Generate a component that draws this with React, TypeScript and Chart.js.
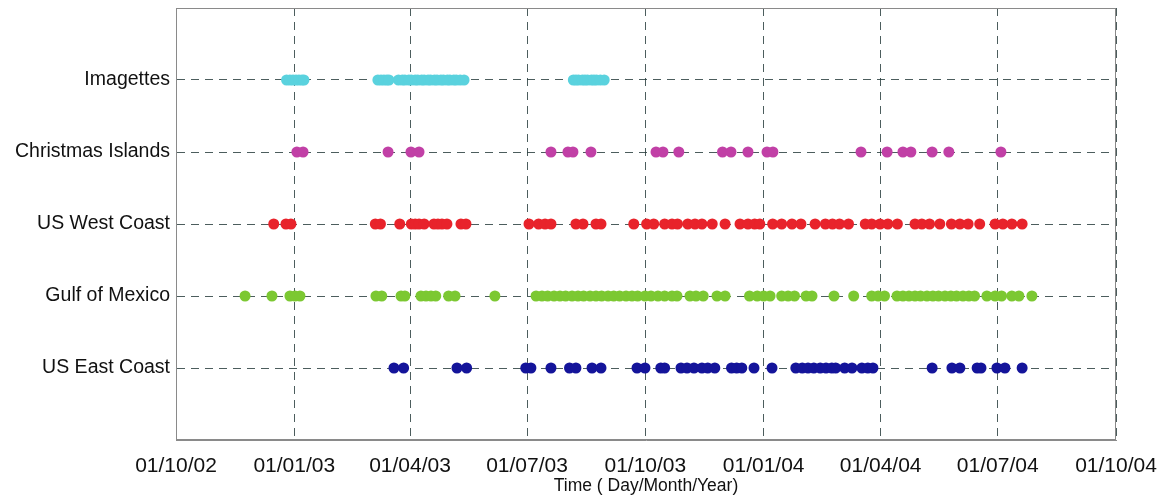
import React, { useEffect, useRef } from "react";
import { Chart, registerables } from "chart.js";

Chart.register(...registerables);

// Rows (bottom to top): y = 1..5
const rowLabels = ["US East Coast", "Gulf of Mexico", "US West Coast", "Christmas Islands", "Imagettes"];

// Ticks: days since 01/10/02
const tickDays = [0, 92, 182, 273, 365, 457, 548, 639, 731];
const tickLabels = ["01/10/02", "01/01/03", "01/04/03", "01/07/03", "01/10/03", "01/01/04", "01/04/04", "01/07/04", "01/10/04"];

// Acquisition dates, in days since 01/10/02
const imagettesDays = [86, 88.6, 91, 93.3, 95.6, 98, 99.5, 157, 159.4, 161.7, 164, 165.6, 173, 176, 178, 181, 183, 186, 188, 191, 193, 196, 198, 201, 203, 206, 208, 211, 213, 216, 218, 221, 224, 309, 311, 313, 316, 318, 320, 323, 325, 327, 330, 333];
const christmasDays = [94, 98.8, 164.9, 182.7, 189, 291.6, 304.8, 308.7, 322.7, 373.3, 378.7, 391, 425, 431.6, 444.8, 459.6, 464.2, 532.7, 553, 565.3, 571.5, 588, 601, 641.5];
const westCoastDays = [76, 85.5, 89.4, 155, 159, 174, 183, 186, 189, 193, 200.6, 203.7, 206.8, 210.7, 221.6, 225.5, 274.5, 282, 287, 291.6, 311, 316.5, 326.6, 330.5, 356, 366, 371.5, 380, 385.7, 390, 398, 403.6, 409, 417, 427, 438.6, 444.8, 450, 454, 464, 471, 479, 486, 497, 505, 510.5, 516, 523, 536, 541, 547.5, 553.6, 561, 574.7, 580, 586, 594, 603, 609.6, 616, 625, 637, 643, 650, 658];
const gulfDays = [53.7, 74.6, 88.6, 92.5, 96.4, 155.5, 160, 175, 178, 190.5, 194.4, 198.3, 202, 212, 217, 248, 280, 284.6, 289, 294, 298.6, 303, 308, 312.6, 317, 322, 326.6, 331, 336, 340.4, 345, 350, 354.6, 359, 364.7, 369.4, 374.8, 380, 385.7, 389.6, 399.7, 404.4, 410, 420.7, 427, 446, 452, 457, 462, 471, 476, 481, 490, 494.6, 511.7, 527, 541, 546, 551, 560.7, 565.3, 570, 574.7, 579, 584, 588.6, 593, 598, 602.6, 607, 612, 616.6, 621, 630.6, 637, 642, 650, 655.5, 665.6];
const eastCoastDays = [169.5, 177, 218.5, 226, 272, 276, 291.6, 306, 311, 323.5, 330.5, 358.5, 364.7, 377, 380, 392.7, 397.4, 402.8, 409, 413.5, 419, 432, 436, 440, 449.5, 463.5, 482, 487, 491.5, 496, 501, 505.5, 510, 513, 520, 525.7, 533.4, 538, 542, 588, 603.4, 609.6, 623, 626, 638.4, 644.6, 658];

const seriesDays = [eastCoastDays, gulfDays, westCoastDays, christmasDays, imagettesDays];
const seriesColors = ["#14149a", "#7cc832", "#e8232b", "#c140a6", "#5ad2de"];

const frame = {
  id: "frame",
  beforeDatasetsDraw(chart: any) {
    const { ctx, chartArea: a } = chart;
    ctx.save();
    ctx.strokeStyle = "#8a8a8a";
    ctx.lineWidth = 1;
    ctx.strokeRect(a.left + 0.5, a.top + 0.5, a.right - a.left - 1, a.bottom - a.top - 1);
    ctx.restore();
  },
};

export default function App() {
  const ref = useRef<HTMLCanvasElement>(null);
  useEffect(() => {
    const chart = new Chart(ref.current!, {
      type: "scatter",
      data: {
        datasets: seriesDays.map((days, i) => ({
          label: rowLabels[i],
          data: days.map((d) => ({ x: d, y: i + 1 })),
          backgroundColor: seriesColors[i],
          borderColor: seriesColors[i],
          borderWidth: 0,
          pointRadius: 5.5,
          pointHoverRadius: 5.5,
        })),
      },
      options: {
        animation: false,
        responsive: true,
        maintainAspectRatio: false,
        layout: { padding: { left: 0, right: 47, top: 8, bottom: 0 } },
        plugins: { legend: { display: false }, tooltip: { enabled: false } },
        scales: {
          x: {
            type: "linear",
            min: 0,
            max: 731,
            afterBuildTicks: (s: any) => {
              s.ticks = tickDays.map((v) => ({ value: v }));
            },
            afterFit: (s: any) => {
              s.height = 55;
              s.paddingLeft = 0;
              s.paddingRight = 0;
            },
            ticks: {
              autoSkip: false,
              maxRotation: 0,
              padding: 14,
              color: "#111",
              font: { family: "'Liberation Sans', Arial, sans-serif", size: 21 },
              callback: (v: any) => tickLabels[tickDays.indexOf(Number(v))] ?? "",
            },
            grid: { color: "rgba(45,65,65,0.85)", lineWidth: 1, drawTicks: false },
            border: { display: true, color: "#8a8a8a", dash: [8, 6] },
            title: {
              display: true,
              text: "Time ( Day/Month/Year)",
              color: "#111",
              font: { family: "'Liberation Sans', Arial, sans-serif", size: 17.5 },
              padding: { top: 0, bottom: -2 },
            },
          },
          y: {
            type: "linear",
            min: 0,
            max: 6,
            afterBuildTicks: (s: any) => {
              s.ticks = [1, 2, 3, 4, 5].map((v) => ({ value: v }));
            },
            afterFit: (s: any) => {
              s.width = 176;
              s.paddingTop = 0;
              s.paddingBottom = 0;
            },
            ticks: {
              padding: 6,
              color: "#111",
              font: { family: "'Liberation Sans', Arial, sans-serif", size: 19.5 },
              callback: (v: any) => rowLabels[Number(v) - 1] ?? "",
            },
            grid: { color: "rgba(45,65,65,0.85)", lineWidth: 1, drawTicks: false },
            border: { display: true, color: "#8a8a8a", dash: [8, 6] },
          },
        },
      },
      plugins: [frame],
    });
    return () => chart.destroy();
  }, []);
  return (
    <div style={{ position: "fixed", left: 0, top: 0, width: 1163, height: 495, background: "#fff" }}>
      <canvas ref={ref} />
    </div>
  );
}
